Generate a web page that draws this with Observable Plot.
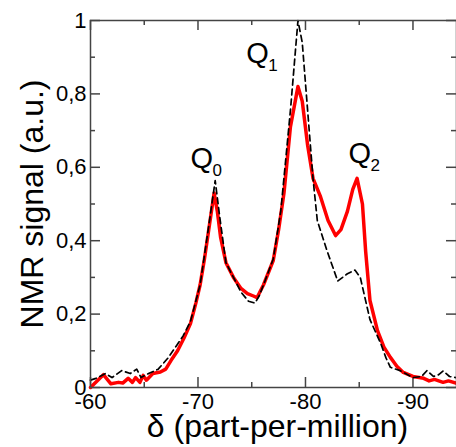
<!DOCTYPE html>
<html><head><meta charset="utf-8">
<script src="https://cdn.jsdelivr.net/npm/d3@7"></script>
<script src="https://cdn.jsdelivr.net/npm/@observablehq/plot@0.6"></script>
<style>body{margin:0;background:#fff;}</style>
</head><body><div id="chart"></div>
<script>
// Red solid spectrum
const deltaRed = [-60.0,-61.2,-61.9,-62.6,-63.0,-63.5,-63.9,-64.2,-64.6,-64.9,-65.2,-65.8,-66.5,-67.0,-67.5,-68.1,-68.7,-69.3,-69.8,-70.2,-70.6,-71.0,-71.5,-71.8,-72.1,-72.6,-73.3,-74.0,-74.6,-75.1,-75.5,-76.1,-77.0,-77.5,-78.0,-78.6,-79.3,-79.7,-80.2,-80.7,-81.4,-82.1,-82.8,-83.3,-83.9,-84.4,-84.8,-85.3,-85.6,-86.0,-86.7,-87.3,-87.9,-88.5,-89.1,-90.0,-91.0,-91.5,-92.0,-92.8,-93.3,-94.0];
const signalRed = [0.00,0.035,0.01,0.014,0.012,0.025,0.014,0.027,0.014,0.033,0.02,0.038,0.042,0.05,0.074,0.10,0.135,0.174,0.23,0.28,0.35,0.43,0.53,0.48,0.41,0.34,0.30,0.27,0.256,0.25,0.245,0.28,0.346,0.43,0.53,0.71,0.82,0.78,0.66,0.57,0.52,0.455,0.414,0.43,0.48,0.54,0.57,0.50,0.37,0.237,0.155,0.11,0.082,0.058,0.041,0.03,0.025,0.018,0.022,0.014,0.018,0.012];
// Black dashed spectrum
const deltaDash = [-60.0,-60.5,-61.4,-62.0,-62.9,-63.7,-64.3,-64.7,-65.4,-66.3,-67.2,-68.0,-68.6,-69.3,-70.2,-71.0,-71.6,-72.0,-72.6,-73.3,-74.0,-74.7,-75.3,-75.7,-76.1,-77.0,-77.7,-78.6,-79.3,-79.7,-80.2,-80.7,-81.1,-82.0,-83.0,-83.9,-84.6,-85.1,-86.0,-87.0,-87.5,-87.9,-88.8,-90.0,-90.8,-91.3,-91.9,-92.4,-92.8,-93.4,-94.0];
const signalDash = [0.02,0.025,0.038,0.027,0.046,0.038,0.05,0.027,0.038,0.05,0.08,0.114,0.14,0.18,0.28,0.44,0.564,0.47,0.34,0.30,0.26,0.235,0.23,0.25,0.28,0.35,0.48,0.755,1.0,0.94,0.755,0.57,0.455,0.373,0.29,0.31,0.32,0.30,0.185,0.12,0.08,0.055,0.046,0.027,0.03,0.046,0.03,0.035,0.045,0.03,0.027];
// Ticks
const xMajor = [-60,-70,-80,-90];
const xMinor = [-65,-75,-85];
const yMajor = [0,0.2,0.4,0.6,0.8,1];
const yMinor = [0.1,0.3,0.5,0.7,0.9];
// Peak annotations
const peakNames = ["Q","Q","Q"];
const peakSubs = ["0","1","2"];
const peakDelta = [-69.3,-74.5,-84.0];
const peakSignal = [0.597,0.883,0.613];

const red = deltaRed.map((d,i)=>({d, v: signalRed[i]}));
const dash = deltaDash.map((d,i)=>({d, v: signalDash[i]}));
const peaks = peakNames.map((n,i)=>({n, s: peakSubs[i], d: peakDelta[i], v: peakSignal[i]}));

const W = 456, H = 447, ML = 90, MR = 0, MT = 20, MB = 60;
const PW = W - ML - MR, PH = H - MT - MB;
const axisColor = "#444";

const chart = Plot.plot({
  width: W, height: H,
  marginLeft: ML, marginRight: MR, marginTop: MT, marginBottom: MB,
  style: {fontFamily: "'Liberation Sans', Arial, Helvetica, sans-serif", background: "#fff", color: "#000"},
  x: {domain: [-60, -94.05]},
  y: {domain: [0, 1]},
  marks: [
    Plot.tickY(yMajor, {y: d=>d, insetRight: PW-10, stroke: axisColor, strokeWidth: 1.5}),
    Plot.tickY(yMinor, {y: d=>d, insetRight: PW-5, stroke: axisColor, strokeWidth: 1.5}),
    Plot.tickY(yMajor, {y: d=>d, insetLeft: PW-10, stroke: axisColor, strokeWidth: 1.5}),
    Plot.tickY(yMinor, {y: d=>d, insetLeft: PW-5, stroke: axisColor, strokeWidth: 1.5}),
    Plot.tickX(xMajor, {x: d=>d, insetBottom: PH-10, stroke: axisColor, strokeWidth: 1.5}),
    Plot.tickX(xMinor, {x: d=>d, insetBottom: PH-5, stroke: axisColor, strokeWidth: 1.5}),
    Plot.tickX(xMajor, {x: d=>d, insetTop: PH-10, stroke: axisColor, strokeWidth: 1.5}),
    Plot.tickX(xMinor, {x: d=>d, insetTop: PH-5, stroke: axisColor, strokeWidth: 1.5}),
    Plot.axisX(xMajor, {tickSize: 0, tickPadding: 6, fontSize: 22, label: null, tickFormat: d => String(d), fill: "#000"}),
    Plot.axisY(yMajor, {tickSize: 0, tickPadding: 4, fontSize: 22, label: null, tickFormat: d => String(d).replace(".", ","), fill: "#000"}),
    Plot.line(red, {x: "d", y: "v", stroke: "#ff0000", strokeWidth: 3.5, strokeLinejoin: "round"}),
    Plot.line(dash, {x: "d", y: "v", stroke: "#000", strokeWidth: 1.7, strokeDasharray: "6,4"}),
    Plot.frame({stroke: axisColor, strokeWidth: 1.5}),
    Plot.text(peaks, {x: "d", y: "v", text: "n", textAnchor: "start", lineAnchor: "bottom", fontSize: 29, fill: "#000"}),
    Plot.text(peaks, {x: "d", y: "v", text: "s", textAnchor: "start", lineAnchor: "bottom", fontSize: 17, dx: 22, dy: 8, fill: "#000"}),
    Plot.text(["δ (part-per-million)"], {frameAnchor: "bottom", textAnchor: "middle", dx: 4, dy: 49, lineAnchor: "bottom", fontSize: 32, fill: "#000"}),
    Plot.text(["NMR signal (a.u.)"], {frameAnchor: "left", textAnchor: "middle", dx: -48, rotate: -90, lineAnchor: "bottom", fontSize: 32, fill: "#000"})
  ]
});
document.getElementById("chart").appendChild(chart);
</script>
</body></html>
